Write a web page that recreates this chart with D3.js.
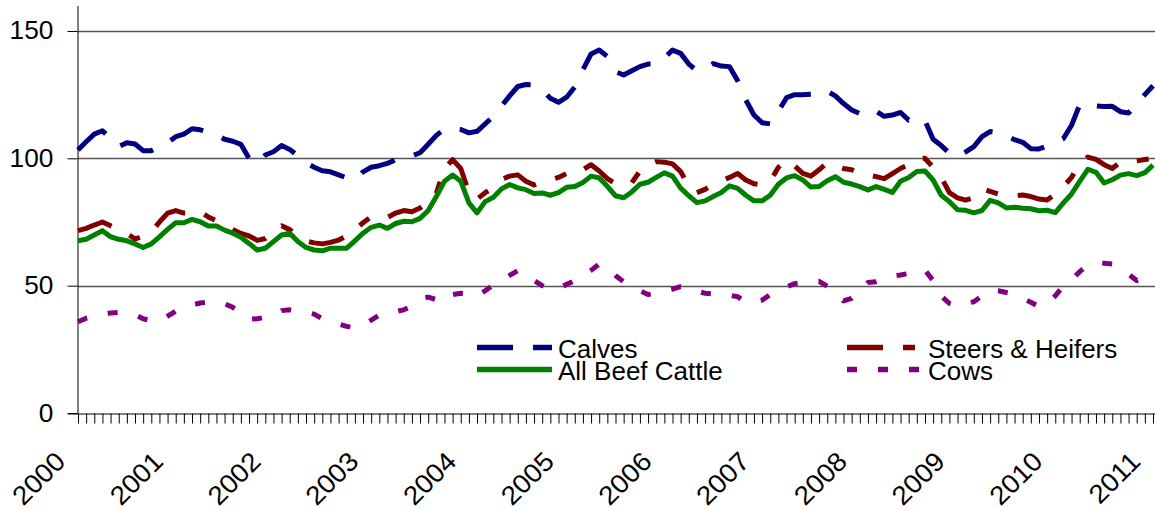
<!DOCTYPE html>
<html>
<head>
<meta charset="utf-8">
<script src="https://cdn.jsdelivr.net/npm/d3@7"></script>
<style>
  body { margin: 0; background: #fff; }
  svg { display: block; font-family: "Liberation Sans", Arial, sans-serif; }
</style>
</head>
<body>
<svg id="chart"></svg>
<script>
// monthly index values, Jan 2000 .. Jan 2011 (133 points)
const years = ["2000","2001","2002","2003","2004","2005","2006","2007","2008","2009","2010","2011"];
const yTicks = [0, 50, 100, 150];

const calves = [
  103.3,106.5,109.5,110.8,108,104.6,106.1,105.6,103,103,
  104.5,106.1,108.5,109.5,111.6,111.2,110.3,109.2,107.5,106.7,
  105.5,100,98,101.3,102.6,105,103.5,101,98.2,96.5,
  95.1,94.7,93.5,92.3,91.7,94.7,96.5,97.1,98,99.4,
  100.2,100.9,102.2,105.5,109,111.5,111.8,111.3,110,110.6,
  113.5,116.5,120.5,124.5,128.2,129,128.8,126.8,123.6,122,
  124,128,134.7,141,142.5,140,134,132.7,134.4,136,
  137,137,139.5,142.5,141.2,137,134.4,135.3,137.2,136.2,
  136,130.5,122.9,117,114,113.5,118.5,123.8,125,125,
  125.2,126.5,126.3,124.5,121.5,119,117.6,119.3,118.5,116.5,
  117,118,115,116,114.8,107.5,105,102,100.6,102.5,
  104.6,108.5,110.5,110,108.7,107.3,106.3,103.8,103.7,104.8,
  106,107.8,113,121,121.2,120.6,120.3,120.4,118.3,117.8,
  121,125,128.5
];

const steers = [
  71.6,72.5,73.8,75,73.5,72,70.5,68.3,69.5,71,
  75,78.5,79.5,78.5,78.5,79,77,75.5,74,72,
  70.5,69.5,67.8,68.5,71,73.5,72,69.5,67.5,66.8,
  66.4,67,67.9,69.5,72,74.7,77,77.5,76.8,78.5,
  79.5,79,80.5,83,86.3,96,99.5,96,86.5,84,
  86.5,88.5,91.7,93,93.5,91,89.5,90.8,91.5,92.5,
  94,93.5,95.5,97.5,95,92,90,89.5,90.4,95,
  97.5,98.7,98.5,97.8,94.8,89,86.5,87.8,89.8,91.2,
  92.5,94,91.5,90,89.5,91,96.5,99.5,97,94.1,
  93,95.5,98.3,97,96,95.5,94,93.5,92.8,92,
  94,96,97.5,100,100,96.5,92.5,86.5,84.5,83.6,
  84.5,88,87,86,85.5,85.3,85.6,85,84,83.6,
  86,88.9,92.5,98,100.5,99.6,97.5,96,98.5,99,
  99,99.5,100
];

const allBeef = [
  67.6,68.2,69.9,71.6,69.2,68.2,67.6,66.4,65,66.4,
  69.2,72.1,74.7,74.7,76,75.1,73.4,73.4,71.8,70.6,
  69,66.6,64,64.7,67.3,69.9,70.6,67.3,65,64,
  63.7,64.7,64.7,64.7,67.6,70.6,72.9,73.8,72.5,74.4,
  75.3,75.1,76.4,79.5,85,91,93.4,91,82.5,78.6,
  83,84.7,88,89.7,88.4,87.7,86.2,86.4,85.5,86.5,
  88.6,88.9,90.5,93,92.3,89,85.3,84.5,86.8,89.8,
  90.6,92.5,94.3,93,88.3,85.3,82.6,83.3,85,86.6,
  89.2,88.2,85.5,83.3,83.3,85.5,89.8,92.3,93.2,91.5,
  88.7,88.9,91.2,92.8,90.6,89.9,88.9,87.6,88.9,87.8,
  86.6,91,92.5,94.8,95,91.5,85.5,83,79.8,79.6,
  78.6,79.5,83.5,82.5,80.5,80.8,80.4,80.2,79.4,79.6,
  78.7,82.5,86,90.9,95.7,94.5,90.3,91.6,93.4,94,
  93.2,94.4,97.3
];

const cows = [
  35.8,37.2,38,38.7,39.3,39.5,39.2,38.6,37,36.3,
  36,38,40,41.5,42.4,43.2,43.5,43.5,42.9,41.5,
  39.5,36.8,37,37.6,38.1,40.2,40.5,40,39.5,38.8,
  37,36,34.9,34,33.3,34.5,36.5,38.5,39.5,39.8,
  40.5,42,44.8,45.5,44.5,43.7,46.5,47,46.7,45.9,
  48,50.3,51.9,54,55.9,54.6,52,50,48.5,49,
  50.5,51.9,53.8,56,58.5,57,54,51.5,49.8,48,
  46.5,47,47.8,48.6,49.6,48.6,47.8,47,46.7,46.7,
  46.2,45.7,43.5,43.5,44.3,46.5,48,49.5,50.8,51.2,
  51.5,51.7,49.8,47,44,45,48,51.2,51.5,52.5,
  53.8,54.2,54.8,55.5,56.1,52,45.9,43,42,43,
  43.7,46,48.3,48,47.3,46.7,45,43.5,41.8,43,
  46,49.9,52.2,55.5,58.1,59,58.8,58.5,56.6,54.5,
  52,53.3,54
];

const seriesNames = ["Calves", "Steers & Heifers", "All Beef Cattle", "Cows"];
const seriesValues = [calves, steers, allBeef, cows];
const seriesColors = ["#000080", "#800000", "#008000", "#800080"];
const seriesDash = ["36,20", "36,20,12,20", null, "10,21"];

const width = 1155, height = 510;
const svg = d3.select("#chart").attr("width", width).attr("height", height);

const x = d3.scaleLinear().domain([0, 132]).range([78, 1153]);
const y = d3.scaleLinear().domain([0, 160]).range([413, 5.5]);

// gridlines
svg.append("g")
  .selectAll("line")
  .data(yTicks.filter(d => d > 0))
  .enter().append("line")
  .attr("x1", 78).attr("x2", width)
  .attr("y1", d => Math.round(y(d)) + 0.5)
  .attr("y2", d => Math.round(y(d)) + 0.5)
  .attr("stroke", "#555")
  .attr("stroke-width", 1.4);

// y axis
const yAxis = svg.append("g")
  .attr("transform", "translate(77.5,0)")
  .call(d3.axisLeft(y).tickValues(yTicks).tickSize(10).tickSizeOuter(0).tickPadding(13));
yAxis.selectAll("text")
  .attr("font-size", 25).attr("fill", "#000")
  .attr("font-family", "Liberation Sans, Arial, sans-serif")
  .attr("transform", "scale(1.05,1)");
yAxis.selectAll("line,path").attr("stroke", "#000");

// x axis, one tick per month
const xAxis = svg.append("g")
  .attr("transform", "translate(0,413.5)")
  .call(d3.axisBottom(x).tickValues(d3.range(0, 133)).tickSize(10).tickSizeOuter(0).tickFormat(""));
xAxis.selectAll("line,path").attr("stroke", "#000");
xAxis.select(".domain").attr("d", "M68,0.5H" + width);

// year labels
svg.append("g")
  .selectAll("text")
  .data(years)
  .enter().append("text")
  .attr("transform", (d, i) => "translate(" + (x(i * 12) - 11) + ",463) rotate(-45) scale(1.05,1)")
  .attr("text-anchor", "end")
  .attr("font-size", 26.5)
  .text(d => d);

// series lines
const line = d3.line()
  .x((d, i) => x(i))
  .y(d => y(d));

svg.append("g")
  .selectAll("path")
  .data(seriesValues)
  .enter().append("path")
  .attr("d", line)
  .attr("fill", "none")
  .attr("stroke", (d, i) => seriesColors[i])
  .attr("stroke-width", 5)
  .attr("stroke-linejoin", "round")
  .attr("stroke-dasharray", (d, i) => seriesDash[i]);

// legend: two columns, two rows
const legend = svg.append("g").attr("class", "legend");
const item = legend.selectAll("g")
  .data(seriesNames)
  .enter().append("g")
  .attr("transform", (d, i) => "translate(" + (i % 2 === 0 ? 477 : 847) + "," + (i < 2 ? 358 : 380) + ")");
item.append("line")
  .attr("x1", 0).attr("x2", 75)
  .attr("y1", -10.5).attr("y2", -10.5)
  .attr("stroke", (d, i) => seriesColors[i])
  .attr("stroke-width", 5.5)
  .attr("stroke-dasharray", (d, i) => seriesDash[i]);
item.append("text")
  .attr("transform", "translate(81,0) scale(1.04,1)")
  .attr("font-size", 25)
  .text(d => d);
</script>
</body>
</html>
